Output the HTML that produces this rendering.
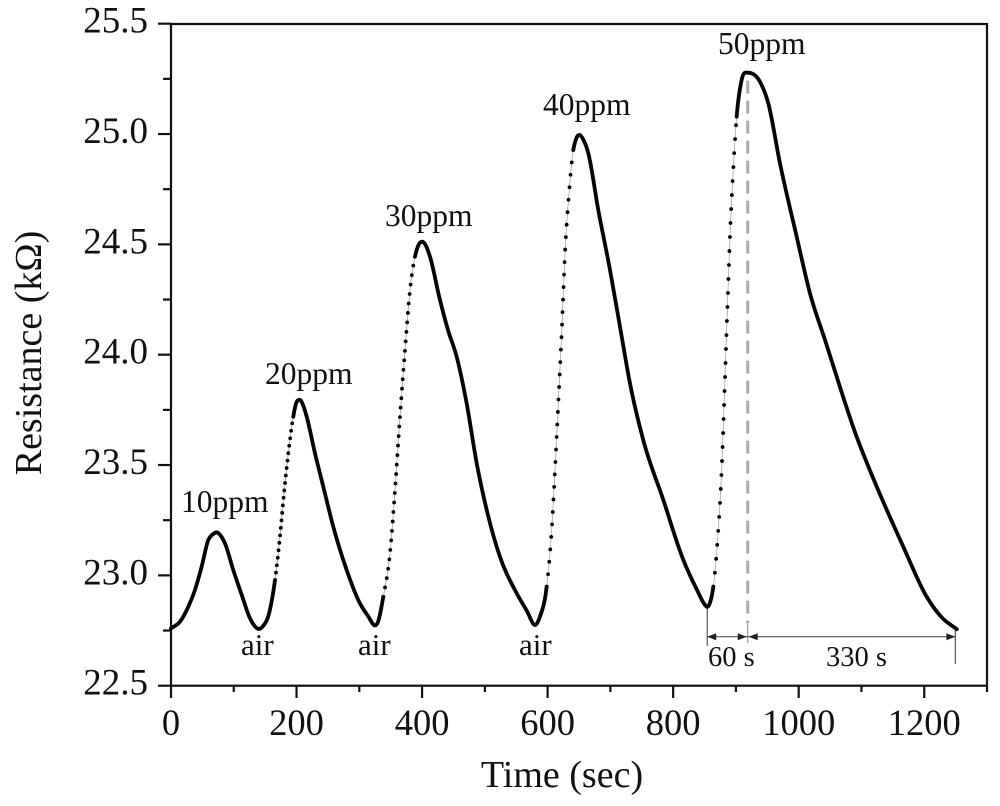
<!DOCTYPE html>
<html>
<head>
<meta charset="utf-8">
<style>
html,body{margin:0;padding:0;background:#fff;}
svg{display:block;filter:blur(0.35px);}
text{font-family:"Liberation Serif","DejaVu Serif",serif;fill:#111;}
</style>
</head>
<body>
<svg id="chart" xmlns="http://www.w3.org/2000/svg" width="1000" height="806" viewBox="0 0 1000 806">
  <g id="ticks"></g>
  <rect x="171" y="24" width="816" height="661.7" fill="none" stroke="#111" stroke-width="2.2"/>
  <g id="marks"></g>
  <g id="series"></g>
  <text transform="translate(41,353) rotate(-90)" text-anchor="middle" font-size="38">Resistance (kΩ)</text>
  <text x="562" y="787" text-anchor="middle" font-size="38">Time (sec)</text>
  <text x="181" y="512" font-size="31.5">10ppm</text>
  <text x="265" y="384" font-size="31.5">20ppm</text>
  <text x="385" y="226" font-size="31.5">30ppm</text>
  <text x="543" y="115" font-size="31.5">40ppm</text>
  <text x="718" y="54" font-size="31.5">50ppm</text>
  <text x="241" y="655" font-size="31">air</text>
  <text x="358" y="655" font-size="31">air</text>
  <text x="519" y="655" font-size="31">air</text>
  <text x="708" y="666" font-size="28.5">60 s</text>
  <text x="826" y="666" font-size="28.5">330 s</text>
</svg>
<script>
const timeSec = [0,14.3,27.6,38.2,48.9,59.4,67,72.8,79.7,86,99.2,112.6,125.9,132,140,146.6,155,165.7,173.6,180,186.9,194.8,199,205.5,210.3,216.2,229.4,242.6,258.6,279.9,301,313.8,325,329.8,338.2,348.9,356.9,364.8,372.8,380.8,388.7,394.3,400.4,406.3,412.6,428.5,441.3,455.1,471,487,503,524,550.7,567,579.9,587.8,598.5,606.5,611.8,617,622.4,627.7,634.5,640.9,645.2,650.5,656.4,664.8,680.7,699.4,715.3,731.2,752.4,784.3,816.2,838,850.7,854.3,858.6,864,871.9,877.3,884.1,887.8,891.6,895.7,901.2,909.1,918.8,938.3,951.6,970.2,996.8,1018,1041.9,1092.4,1124.3,1166.6,1203.9,1228,1252];
const resistanceKOhm = [22.76,22.79,22.858,22.934,23.04,23.16,23.187,23.195,23.178,23.145,23.024,22.912,22.805,22.775,22.757,22.77,22.815,22.979,23.175,23.372,23.553,23.719,23.777,23.795,23.772,23.719,23.553,23.402,23.22,23.024,22.873,22.816,22.773,22.789,22.903,23.1,23.387,23.719,24.021,24.293,24.444,24.497,24.512,24.493,24.444,24.248,24.112,23.991,23.78,23.508,23.296,23.085,22.919,22.839,22.775,22.813,22.949,23.206,23.477,23.78,24.097,24.46,24.746,24.928,24.977,24.996,24.977,24.913,24.656,24.384,24.127,23.87,23.613,23.342,23.07,22.934,22.866,22.857,22.875,22.949,23.206,23.477,24.021,24.324,24.61,24.837,25.079,25.245,25.278,25.237,25.139,24.867,24.535,24.278,24.067,23.628,23.402,23.13,22.903,22.809,22.756];
const dottedStart = [165.7,338.2,598.5,864];
const dottedEnd = [194.8,388.7,640.9,901.2];
const xTickValues = [0,100,200,300,400,500,600,700,800,900,1000,1100,1200,1300];
const xTickLabels = ['0','','200','','400','','600','','800','','1000','','1200',''];
const yTickValues = [22.5,22.75,23,23.25,23.5,23.75,24,24.25,24.5,24.75,25,25.25,25.5];
const yTickLabels = ['22.5','','23.0','','23.5','','24.0','','24.5','','25.0','','25.5'];
const peakTime = [918.8];
const bracketTimes = [854.3,918.8,1252];

const SVGNS = 'http://www.w3.org/2000/svg';
function xScale(t){ return 171 + t * 816 / 1300; }
function yScale(r){ return 685.7 - (r - 22.5) * 220.67; }
function make(tag, attrs, parent){
  const el = document.createElementNS(SVGNS, tag);
  for (const k in attrs) el.setAttribute(k, attrs[k]);
  parent.appendChild(el);
  return el;
}

/* ticks */
const tickGroup = document.getElementById('ticks');
xTickValues.forEach(function(v, i){
  const x = xScale(v);
  const major = xTickLabels[i] !== '';
  const tick = make('line', {x1:x, x2:x, y1:685.7, y2: major ? 698 : 692, stroke:'#111', 'stroke-width':2.2}, tickGroup);
  
  
  if (major) {
    const label = make('text', {x:x, y:735, 'text-anchor':'middle', 'font-size':36.5}, tickGroup);
    
    
    label.textContent = xTickLabels[i];
  }
});
yTickValues.forEach(function(v, i){
  const y = yScale(v);
  const major = yTickLabels[i] !== '';
  const tick = make('line', {x1: major ? 158 : 163, x2:171, y1:y, y2:y, stroke:'#111', 'stroke-width':2.2}, tickGroup);
  
  
  if (major) {
    const label = make('text', {x:148, y:y + 9, 'text-anchor':'end', 'font-size':37}, tickGroup);
    
    
    label.textContent = yTickLabels[i];
  }
});

/* annotations */
const markGroup = document.getElementById('marks');
const xPeak = xScale(peakTime[0]);
const xA = xScale(bracketTimes[0]);
const xB = xScale(bracketTimes[1]);
const xC = xScale(bracketTimes[2]) - 1.5;
const yArrow = 636.7;
const dash = make('line', {x1:xPeak, x2:xPeak, y1:yScale(resistanceKOhm[88]) + 8, y2:623, stroke:'#aaa', 'stroke-width':3, 'stroke-dasharray':'13 7'}, markGroup);


const tail = make('line', {x1:xPeak, x2:xPeak, y1:623, y2:643, stroke:'#888', 'stroke-width':1}, markGroup);


const leftGuide = make('line', {x1:xA, x2:xA, y1:yScale(resistanceKOhm[77]), y2:646, stroke:'#555', 'stroke-width':1.2}, markGroup);


const rightGuide = make('line', {x1:xC, x2:xC, y1:630, y2:664, stroke:'#555', 'stroke-width':1.2}, markGroup);


const span60 = make('line', {x1:xA, x2:xB, y1:yArrow, y2:yArrow, stroke:'#555', 'stroke-width':1.2}, markGroup);


const span330 = make('line', {x1:xB, x2:xC, y1:yArrow, y2:yArrow, stroke:'#555', 'stroke-width':1.2}, markGroup);


[[xA,1],[xB - 1,-1],[xB + 1,1],[xC,-1]].forEach(function(a){
  const tip = a[0];
  const dir = a[1];
  const arrow = make('polygon', {points: tip + ',' + yArrow + ' ' + (tip + dir * 9) + ',' + (yArrow - 3.5) + ' ' + (tip + dir * 9) + ',' + (yArrow + 3.5), fill:'#222'}, markGroup);
  
  
});

/* series: smooth cubic through the read samples, flat at extrema */
const seriesGroup = document.getElementById('series');
const pts = timeSec.map(function(t, i){ return [xScale(t), yScale(resistanceKOhm[i])]; });
const slopes = [];
for (let n = 0; n < pts.length - 1; n++) {
  slopes.push((pts[n + 1][1] - pts[n][1]) / (pts[n + 1][0] - pts[n][0]));
}
const tangents = pts.map(function(p, n){
  if (n === 0) return slopes[0];
  if (n === pts.length - 1) return slopes[slopes.length - 1];
  const a = slopes[n - 1], b = slopes[n];
  if (a * b <= 0) return 0;
  const ha = pts[n][0] - pts[n - 1][0], hb = pts[n + 1][0] - pts[n][0];
  return (hb * a + ha * b) / (ha + hb);
});
function isDotted(i){
  for (let k = 0; k < dottedStart.length; k++) {
    if (timeSec[i] >= dottedStart[k] && timeSec[i + 1] <= dottedEnd[k]) return k;
  }
  return -1;
}
function bez(i){
  const p1 = pts[i], p2 = pts[i + 1];
  const h = (p2[0] - p1[0]) / 3;
  const c1x = p1[0] + h, c1y = p1[1] + tangents[i] * h;
  const c2x = p2[0] - h, c2y = p2[1] - tangents[i + 1] * h;
  return 'C' + c1x.toFixed(2) + ' ' + c1y.toFixed(2) + ' ' + c2x.toFixed(2) + ' ' + c2y.toFixed(2) + ' ' + p2[0].toFixed(2) + ' ' + p2[1].toFixed(2);
}
const dotSpacing = [7.5, 9.5, 12.5, 14];
let i = 0;
while (i < pts.length - 1) {
  const kind = isDotted(i);
  let d = 'M' + pts[i][0].toFixed(2) + ' ' + pts[i][1].toFixed(2);
  while (i < pts.length - 1 && isDotted(i) === kind) { d += bez(i); i++; }
  if (kind >= 0) {
    const thin = make('path', {d:d, fill:'none', stroke:'#999', 'stroke-width':0.7}, seriesGroup);
    
    
    const dots = make('path', {d:d, fill:'none', stroke:'#000', 'stroke-width':3.8, 'stroke-linecap':'round', 'stroke-dasharray':'0 ' + dotSpacing[kind]}, seriesGroup);
    
    
  } else {
    const solid = make('path', {d:d, fill:'none', stroke:'#050505', 'stroke-width':3.8, 'stroke-linecap':'round', 'stroke-linejoin':'round'}, seriesGroup);
    
    
  }
}
</script>
</body>
</html>
